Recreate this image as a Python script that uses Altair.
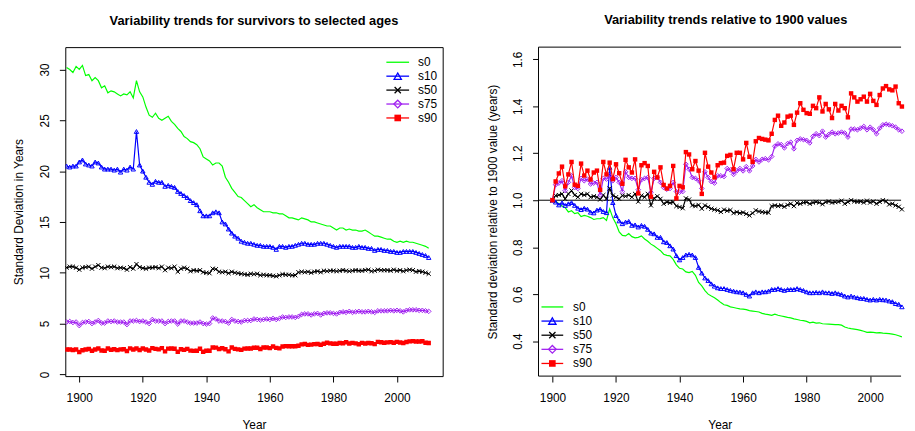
import altair as alt
import pandas as pd

FONT = "Liberation Sans"

# ---------------- data ----------------
years_left = list(range(1896, 2011))
years_right = list(range(1900, 2011))
series_names = ["s0", "s10", "s50", "s75", "s90"]
series_colors = ["#00FF00", "#0000FF", "#000000", "#A020F0", "#FF0000"]

x_ticks = [1900, 1920, 1940, 1960, 1980, 2000]
left_y_ticks = [0, 5, 10, 15, 20, 25, 30]
right_y_ticks = [0.4, 0.6, 0.8, 1.0, 1.2, 1.4, 1.6]

# Standard deviation (years), 1896-2010
left_s0 = [30.2, 30.0, 29.7, 30.3,
           30.0, 30.4, 29.4, 29.5, 28.9, 29.2, 28.9, 28.2, 28.4, 27.7,
           27.9, 27.8, 27.6, 27.4, 27.6, 27.5, 27.8, 27.2, 28.9, 27.8,
           27.3, 26.3, 25.5, 25.3, 25.7, 25.2, 25.0, 25.2, 25.4, 24.9,
           24.6, 24.2, 23.9, 23.4, 23.2, 22.9, 22.8, 22.6, 22.2, 21.4,
           21.2, 21.0, 20.6, 20.8, 20.8, 20.5, 19.4, 18.9, 18.3, 17.9,
           17.5, 17.4, 17.1, 16.8, 16.5, 16.7, 16.4, 16.2, 16.0, 16.0,
           16.0, 15.9, 15.9, 15.8, 15.8, 15.6, 15.4, 15.4, 15.3, 15.2,
           15.4, 15.3, 15.2, 15.0, 15.0, 14.9, 14.8, 14.7, 14.6, 14.6,
           14.4, 14.2, 14.4, 14.4, 14.2, 14.3, 14.2, 14.2, 14.1, 14.1,
           14.2, 14.0, 13.8, 13.6, 13.6, 13.5, 13.4, 13.3, 13.3, 13.1,
           13.0, 13.1, 13.0, 13.1, 13.0, 13.0, 12.9, 12.8, 12.7, 12.6, 12.4]
left_s10 = [20.5, 20.4, 20.5, 20.5,
            20.9, 21.1, 20.7, 20.6, 20.5, 20.9, 20.8, 20.4, 20.2, 20.2,
            20.2, 20.1, 20.2, 19.9, 20.2, 20.1, 20.4, 20.2, 23.9, 20.6,
            20.0, 19.4, 18.9, 18.7, 19.0, 18.9, 18.9, 18.5, 18.6, 18.5,
            18.4, 18.0, 17.8, 17.6, 17.4, 17.1, 16.9, 16.7, 16.1, 15.6,
            15.6, 15.6, 15.9, 16.0, 15.9, 15.0, 14.8, 14.3, 13.9, 13.6,
            13.4, 13.1, 13.0, 12.9, 12.9, 12.8, 12.7, 12.7, 12.6, 12.6,
            12.6, 12.5, 12.3, 12.6, 12.6, 12.5, 12.6, 12.6, 12.7, 12.8,
            12.9, 12.9, 12.8, 12.8, 12.8, 12.9, 12.9, 12.9, 12.8, 12.7,
            12.6, 12.5, 12.6, 12.6, 12.6, 12.6, 12.5, 12.5, 12.6, 12.5,
            12.5, 12.4, 12.4, 12.2, 12.3, 12.3, 12.2, 12.2, 12.1, 12.1,
            12.0, 12.0, 12.1, 12.1, 12.1, 12.1, 12.0, 11.9, 11.8, 11.7, 11.5]
left_s50 = [10.5, 10.6, 10.6, 10.5,
            10.3, 10.5, 10.55, 10.6, 10.4, 10.6, 10.75, 10.5, 10.45, 10.6,
            10.55, 10.6, 10.45, 10.5, 10.45, 10.3, 10.55, 10.4, 10.85, 10.55,
            10.45, 10.4, 10.5, 10.5, 10.55, 10.45, 10.6, 10.25, 10.5, 10.45,
            10.6, 10.1, 10.4, 10.5, 10.4, 10.15, 10.25, 10.2, 10.25, 10.05,
            10.0, 9.95, 10.4, 10.35, 10.1, 10.05, 10.1, 9.95, 10.1, 10.0,
            9.95, 9.9, 9.85, 9.8, 9.9, 9.85, 9.9, 9.75, 9.8, 9.75,
            9.75, 9.7, 9.65, 9.75, 9.85, 9.8, 9.8, 9.75, 9.75, 10.05,
            10.1, 10.05, 10.1, 10.0, 10.1, 10.15, 10.05, 10.2, 10.15, 10.2,
            10.2, 10.15, 10.2, 10.25, 10.2, 10.15, 10.2, 10.25, 10.2, 10.2,
            10.25, 10.3, 10.15, 10.2, 10.3, 10.25, 10.25, 10.25, 10.2, 10.3,
            10.2, 10.25, 10.15, 10.25, 10.3, 10.25, 10.1, 10.15, 10.1, 10.0, 9.9]
left_s75 = [5.15, 5.2, 5.1, 5.15,
            4.8, 5.1, 5.15, 5.2, 5.0, 5.15, 5.3, 5.05, 5.05, 5.25,
            5.2, 5.25, 5.15, 5.15, 5.15, 4.9, 5.25, 5.25, 5.3, 5.2,
            5.25, 5.15, 5.0, 5.4, 5.25, 5.25, 5.25, 5.0, 5.2, 5.25,
            5.25, 4.95, 5.25, 5.25, 5.15, 5.05, 5.05, 5.05, 5.15, 5.0,
            4.95, 5.0, 5.55, 5.45, 5.25, 5.25, 5.2, 5.05, 5.4, 5.25,
            5.2, 5.15, 5.3, 5.3, 5.3, 5.45, 5.4, 5.35, 5.4, 5.45,
            5.4, 5.5, 5.4, 5.5, 5.65, 5.6, 5.65, 5.65, 5.6, 5.7,
            5.9, 5.95, 5.95, 5.85, 5.95, 6.0, 5.85, 6.0, 6.05, 6.05,
            6.0, 5.95, 6.1, 6.15, 6.1, 6.2, 6.1, 6.15, 6.2, 6.15,
            6.15, 6.2, 6.15, 6.1, 6.25, 6.25, 6.25, 6.25, 6.3, 6.25,
            6.3, 6.25, 6.15, 6.3, 6.35, 6.35, 6.35, 6.3, 6.3, 6.25, 6.2]
left_s90 = [2.45, 2.45, 2.4, 2.45,
            2.2, 2.38, 2.45, 2.5, 2.33, 2.44, 2.55, 2.35, 2.33, 2.54,
            2.43, 2.48, 2.39, 2.46, 2.48, 2.3, 2.56, 2.44, 2.55, 2.4,
            2.54, 2.45, 2.35, 2.58, 2.51, 2.46, 2.58, 2.26, 2.53, 2.55,
            2.52, 2.23, 2.47, 2.41, 2.51, 2.34, 2.31, 2.33, 2.52, 2.22,
            2.33, 2.32, 2.65, 2.63, 2.49, 2.57, 2.48, 2.26, 2.64, 2.51,
            2.46, 2.41, 2.53, 2.55, 2.55, 2.62, 2.62, 2.49, 2.64, 2.64,
            2.58, 2.74, 2.61, 2.56, 2.75, 2.78, 2.77, 2.77, 2.76, 2.82,
            2.95, 2.99, 2.9, 2.93, 2.98, 2.99, 2.91, 3.02, 3.11, 3.05,
            3.02, 3.01, 3.08, 3.06, 3.16, 3.03, 3.1, 3.05, 2.97, 3.1,
            3.04, 3.08, 3.06, 2.98, 3.2, 3.16, 3.12, 3.15, 3.17, 3.12,
            3.2, 3.13, 3.09, 3.19, 3.25, 3.27, 3.24, 3.23, 3.26, 3.11, 3.08]

# Relative to 1900 value, 1900-2010
right_s0 = [1.000, 0.995, 0.985, 0.975, 0.968, 0.950, 0.955, 0.943, 0.947, 0.930,
            0.935, 0.932, 0.926, 0.918, 0.921, 0.922, 0.926, 0.914, 0.963, 0.925,
            0.900, 0.865, 0.850, 0.848, 0.858, 0.845, 0.840, 0.842, 0.848, 0.835,
            0.825, 0.813, 0.805, 0.795, 0.785, 0.770, 0.765, 0.763, 0.748, 0.725,
            0.710, 0.707, 0.695, 0.692, 0.697, 0.680, 0.650, 0.635, 0.615, 0.600,
            0.592, 0.585, 0.575, 0.564, 0.555, 0.552, 0.546, 0.543, 0.540, 0.537,
            0.536, 0.534, 0.530, 0.528, 0.526, 0.524, 0.518, 0.515, 0.513, 0.510,
            0.515, 0.510, 0.507, 0.504, 0.501, 0.499, 0.495, 0.492, 0.489, 0.487,
            0.484, 0.478, 0.481, 0.477, 0.478, 0.474, 0.473, 0.472, 0.471, 0.470,
            0.470, 0.468, 0.460, 0.456, 0.453, 0.451, 0.449, 0.446, 0.442, 0.437,
            0.438, 0.437, 0.435, 0.436, 0.434, 0.433, 0.432, 0.430, 0.427, 0.423, 0.418]
right_s10 = [1.000, 0.992, 0.980, 0.989, 0.978, 0.985, 0.990, 0.978, 0.966, 0.960,
             0.966, 0.962, 0.949, 0.946, 0.958, 0.962, 0.952, 0.947, 1.140, 0.990,
             0.935, 0.912, 0.900, 0.907, 0.910, 0.893, 0.895, 0.886, 0.893, 0.889,
             0.876, 0.860, 0.857, 0.842, 0.842, 0.823, 0.820, 0.806, 0.792, 0.764,
             0.746, 0.756, 0.767, 0.770, 0.767, 0.756, 0.714, 0.690, 0.669, 0.658,
             0.644, 0.634, 0.627, 0.624, 0.624, 0.620, 0.616, 0.613, 0.610, 0.609,
             0.606, 0.599, 0.592, 0.606, 0.610, 0.606, 0.610, 0.610, 0.613, 0.620,
             0.620, 0.624, 0.620, 0.616, 0.620, 0.620, 0.620, 0.624, 0.620, 0.616,
             0.610, 0.606, 0.606, 0.608, 0.606, 0.610, 0.606, 0.606, 0.603, 0.606,
             0.602, 0.599, 0.592, 0.588, 0.592, 0.588, 0.585, 0.582, 0.582, 0.578,
             0.575, 0.578, 0.575, 0.578, 0.576, 0.575, 0.571, 0.568, 0.560, 0.557, 0.546]
right_s50 = [1.000, 1.020, 1.022, 1.027, 1.006, 1.027, 1.041, 1.022, 1.013, 1.027,
             1.022, 1.027, 1.013, 1.017, 1.013, 1.003, 1.022, 1.006, 1.050, 1.020,
             1.013, 1.006, 1.020, 1.017, 1.022, 1.013, 1.027, 0.994, 1.020, 1.013,
             1.027, 0.978, 1.008, 1.017, 1.006, 0.985, 0.992, 0.989, 0.992, 0.975,
             0.971, 0.966, 1.008, 1.003, 0.978, 0.975, 0.980, 0.964, 0.978, 0.971,
             0.964, 0.960, 0.957, 0.950, 0.960, 0.955, 0.958, 0.945, 0.950, 0.945,
             0.948, 0.942, 0.935, 0.945, 0.957, 0.952, 0.950, 0.948, 0.947, 0.975,
             0.978, 0.975, 0.978, 0.972, 0.980, 0.985, 0.975, 0.988, 0.985, 0.990,
             0.992, 0.985, 0.990, 0.993, 0.990, 0.983, 0.992, 0.995, 0.990, 0.992,
             0.993, 0.998, 0.985, 0.992, 1.000, 0.995, 0.993, 0.995, 0.990, 0.998,
             0.990, 0.995, 0.985, 0.993, 1.000, 0.995, 0.982, 0.985, 0.978, 0.972, 0.961]
right_s75 = [1.000, 1.066, 1.073, 1.083, 1.041, 1.076, 1.104, 1.054, 1.050, 1.093,
             1.083, 1.090, 1.069, 1.073, 1.076, 1.022, 1.093, 1.090, 1.104, 1.083,
             1.097, 1.076, 1.037, 1.121, 1.097, 1.093, 1.093, 1.045, 1.087, 1.093,
             1.097, 1.034, 1.093, 1.097, 1.076, 1.054, 1.047, 1.050, 1.076, 1.037,
             1.034, 1.037, 1.153, 1.132, 1.097, 1.093, 1.083, 1.050, 1.121, 1.097,
             1.079, 1.073, 1.104, 1.104, 1.101, 1.135, 1.129, 1.110, 1.125, 1.135,
             1.125, 1.143, 1.125, 1.146, 1.174, 1.163, 1.174, 1.177, 1.172, 1.186,
             1.230, 1.240, 1.237, 1.223, 1.241, 1.247, 1.219, 1.255, 1.261, 1.258,
             1.255, 1.244, 1.272, 1.283, 1.275, 1.294, 1.269, 1.280, 1.290, 1.283,
             1.286, 1.290, 1.286, 1.269, 1.303, 1.303, 1.300, 1.307, 1.314, 1.300,
             1.311, 1.300, 1.283, 1.307, 1.321, 1.324, 1.321, 1.317, 1.311, 1.300, 1.294]
right_s90 = [1.000, 1.080, 1.114, 1.143, 1.059, 1.110, 1.163, 1.066, 1.061, 1.156,
             1.105, 1.126, 1.088, 1.118, 1.126, 1.044, 1.163, 1.110, 1.160, 1.090,
             1.153, 1.115, 1.070, 1.172, 1.140, 1.118, 1.174, 1.029, 1.149, 1.158,
             1.146, 1.015, 1.121, 1.097, 1.140, 1.065, 1.050, 1.061, 1.146, 1.008,
             1.061, 1.055, 1.205, 1.195, 1.132, 1.167, 1.126, 1.027, 1.202, 1.143,
             1.118, 1.097, 1.149, 1.158, 1.160, 1.189, 1.193, 1.132, 1.202, 1.202,
             1.174, 1.244, 1.185, 1.163, 1.251, 1.265, 1.261, 1.258, 1.255, 1.283,
             1.342, 1.360, 1.317, 1.331, 1.356, 1.360, 1.321, 1.373, 1.413, 1.385,
             1.371, 1.368, 1.402, 1.392, 1.438, 1.378, 1.410, 1.387, 1.350, 1.410,
             1.382, 1.402, 1.392, 1.353, 1.455, 1.438, 1.420, 1.430, 1.441, 1.420,
             1.453, 1.423, 1.406, 1.448, 1.476, 1.486, 1.472, 1.468, 1.484, 1.413, 1.399]


def long_df(years, cols):
    rows = []
    for name, vals in zip(series_names, cols):
        assert len(vals) == len(years), (name, len(vals))
        for yr, v in zip(years, vals):
            rows.append({"year": yr, "series": name, "value": v})
    return pd.DataFrame(rows)


left_df = long_df(years_left, [left_s0, left_s10, left_s50, left_s75, left_s90])
right_df = long_df(years_right, [right_s0, right_s10, right_s50, right_s75, right_s90])

# ---------------- styling ----------------
X_PATH = "M-1,-1L1,1M-1,1L1,-1"
marker_style = {
    "s10": dict(shape="triangle-up", filled=False, size=20),
    "s50": dict(shape=X_PATH, filled=False, size=18),
    "s75": dict(shape="diamond", filled=False, size=22),
    "s90": dict(shape="square", filled=True, size=20),
}
legend_marker_size = {"s10": 55, "s50": 40, "s75": 60, "s90": 45}


def panel(df, width, height, xdom, ydom, yticks, yfmt, ytitle, title, leg, hline,
          title_dx=0, open_right=False):
    xenc = alt.X("year:Q",
                 scale=alt.Scale(domain=xdom, nice=False, zero=False),
                 axis=alt.Axis(values=x_ticks, format="d", title="Year"))
    yenc = alt.Y("value:Q",
                 scale=alt.Scale(domain=ydom, nice=False, zero=False),
                 axis=alt.Axis(values=yticks, format=yfmt, title=ytitle))
    layers = []
    one_row = pd.DataFrame({"k": [0]})
    if open_right:
        # frame drawn by hand: plot region continues past the page edge (no right border)
        frame = alt.Chart(one_row)
        layers.append(frame.mark_rule(color="black", strokeWidth=1)
                      .encode(y=alt.value(0)))
        layers.append(frame.mark_rule(color="black", strokeWidth=1)
                      .encode(y=alt.value(height)))
        layers.append(frame.mark_rule(color="black", strokeWidth=1)
                      .encode(x=alt.value(0)))
    if hline:
        layers.append(
            alt.Chart(pd.DataFrame({"value": [1.0]}))
            .mark_rule(color="black", strokeWidth=1)
            .encode(y=alt.Y("value:Q"))
        )
    for name, col in zip(series_names, series_colors):
        base = alt.Chart(df).transform_filter(alt.datum.series == name)
        layers.append(base.mark_line(color=col, strokeWidth=1.2, clip=not open_right)
                      .encode(x=xenc, y=yenc))
        if name in marker_style:
            ms = marker_style[name]
            if ms["filled"]:
                pm = base.mark_point(shape=ms["shape"], filled=True, size=ms["size"],
                                     color=col, opacity=1, clip=not open_right)
            else:
                pm = base.mark_point(shape=ms["shape"], filled=False, size=ms["size"],
                                     color=col, strokeWidth=1, opacity=1,
                                     clip=not open_right)
            layers.append(pm.encode(x=xenc, y=yenc))
    # legend (drawn inside the plot area, R style)
    lx0, lx1, ltx, ly0, ldy = leg
    for i, (name, col) in enumerate(zip(series_names, series_colors)):
        ly = ly0 + i * ldy
        one = alt.Chart(pd.DataFrame({"label": [name]}))
        layers.append(one.mark_rule(color=col, strokeWidth=1.3)
                      .encode(x=alt.value(lx0), x2=alt.value(lx1), y=alt.value(ly)))
        if name in marker_style:
            ms = marker_style[name]
            if ms["filled"]:
                pm = one.mark_point(shape=ms["shape"], filled=True, color=col,
                                    size=legend_marker_size[name], opacity=1)
            else:
                pm = one.mark_point(shape=ms["shape"], filled=False, color=col,
                                    size=legend_marker_size[name], strokeWidth=1.3, opacity=1)
            layers.append(pm.encode(x=alt.value((lx0 + lx1) / 2), y=alt.value(ly)))
        layers.append(one.mark_text(align="left", baseline="middle", font=FONT,
                                    fontSize=12, color="black")
                      .encode(x=alt.value(ltx), y=alt.value(ly), text="label:N"))
    props = dict(
        width=width, height=height,
        title=alt.TitleParams(text=title, font=FONT, fontSize=13, fontWeight="bold",
                              color="black", anchor="middle", offset=19.5, dx=title_dx),
    )
    if open_right:
        props["view"] = alt.ViewBackground(stroke="transparent")
    return alt.layer(*layers).properties(**props)


PX_PER_YEAR = 382 / (2014.4 - 1895.6)
left_w, right_w, h = 382, 367, 333

left = panel(left_df, left_w, h, [1895.6, 2014.4], [-0.17, 32.2], left_y_ticks, "d",
             "Standard Deviation in Years",
             "Variability trends for survivors to selected ages",
             (325, 348, 357, 15.3, 14.1), hline=False)
right = panel(right_df, right_w, h, [1895.6, 1895.6 + right_w / PX_PER_YEAR], [0.251, 1.652],
              right_y_ticks, ".1f",
              "Standard deviation relative to 1900 value (years)",
              "Variability trends relative to 1900 values",
              (3, 25, 35, 263, 14.3), hline=True, title_dx=6, open_right=True)

chart = (
    alt.hconcat(left, right, spacing=42)
    .properties(padding={"left": 4, "top": 3, "right": 0, "bottom": 0})
    .configure_view(stroke="black", strokeWidth=1)
    .configure_axis(domain=False, grid=False, ticks=True, tickColor="black", tickSize=6,
                    tickWidth=1, labelFont=FONT, labelFontSize=12, labelColor="black",
                    labelFlush=False, labelOverlap=False,
                    titleFont=FONT, titleFontSize=12, titleFontWeight="normal",
                    titleColor="black")
    .configure_axisX(labelPadding=11, titlePadding=16)
    .configure_axisY(labelAngle=-90, labelAlign="center", labelBaseline="alphabetic",
                     labelPadding=11, titlePadding=13)
)

chart.save("out.html", embed_options={"renderer": "svg", "actions": False})
